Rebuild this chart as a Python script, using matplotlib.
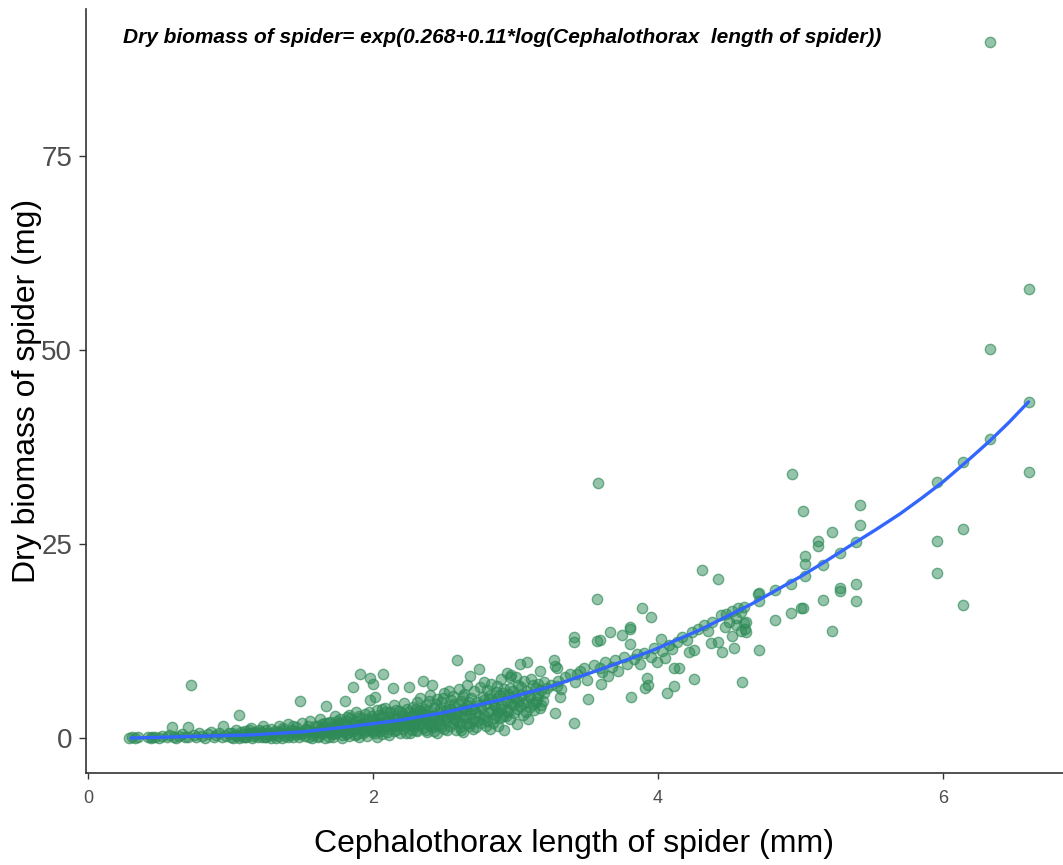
import matplotlib
matplotlib.use("Agg")
import matplotlib.pyplot as plt
import numpy as np

# ---- data ----
pts_a = [(0.29,0.0),(0.31,0.1),(0.33,0.0),(0.35,0.2),(0.42,0.1),(0.44,0.0),(0.45,0.2),(0.47,0.1),
         (0.50,0.0),(0.52,0.3),(0.55,0.1),(0.57,0.4),(0.59,1.4),(0.60,0.2),(0.62,0.0),(0.64,0.3),
         (0.66,0.5),(0.68,0.1),(0.70,1.4),(0.70,0.2),(0.72,6.8),(0.74,0.4),(0.76,0.1),(0.78,0.6),
         (0.80,0.3),(0.82,0.0),(0.84,0.5),(0.86,0.8),(0.88,0.2),(0.90,0.4),(0.92,0.7),(0.94,0.1),
         (0.95,1.6),(0.97,0.3),(0.99,0.6)]
pts_b = [(1.00,0.2),(1.01,0.7),(1.03,0.4),(1.04,1.1),(1.06,3.0),(1.06,0.0),(1.08,0.5),(1.10,0.9),
         (1.11,0.2),(1.13,0.6),(1.14,1.3),(1.16,0.3),(1.17,0.8),(1.19,0.1),(1.20,1.0),(1.22,0.5),
         (1.23,1.6),(1.25,0.2),(1.26,0.7),(1.28,1.2),(1.29,0.4),(1.31,0.9),(1.32,0.0),(1.34,1.5),
         (1.35,0.6),(1.37,1.0),(1.38,0.3),(1.40,1.8),(1.41,0.7),(1.43,1.1),(1.44,0.2),(1.46,1.4),
         (1.47,0.8),(1.49,4.8),(1.49,0.5),(1.50,1.9),(1.52,0.3),(1.53,1.2),(1.55,0.9),(1.56,2.2),
         (1.58,0.4),(1.59,1.6),
         (1.02,0.0),(1.05,0.3),(1.07,0.8),(1.09,0.1),(1.12,0.5),(1.15,0.0),(1.18,0.4),(1.21,0.8),
         (1.24,0.1),(1.27,0.4),(1.30,0.7),(1.33,0.3),(1.36,0.0),(1.39,0.6),(1.42,0.4),(1.45,0.9),
         (1.48,0.1),(1.51,0.6),(1.54,1.5),(1.57,0.0),(1.10,0.2),(1.16,0.6),(1.22,0.2),(1.28,0.0),
         (1.34,0.8),(1.40,0.2),(1.46,0.5),(1.52,1.0),(1.58,0.8),(1.13,1.0),(1.25,1.1),(1.37,1.3),
         (1.44,1.6),(1.55,0.2)]
pts_c = [(1.60,0.8),(1.61,1.5),(1.62,0.3),(1.63,2.4),(1.64,1.1),(1.65,0.6),(1.66,1.9),(1.67,4.1),
         (1.67,0.9),(1.68,1.3),(1.69,0.2),(1.70,2.1),(1.71,1.0),(1.72,0.5),(1.73,2.8),(1.74,1.6),
         (1.75,0.8),(1.76,1.2),(1.77,2.5),(1.78,0.4),(1.79,1.8),(1.80,4.8),(1.80,1.0),(1.81,2.2),
         (1.82,0.6),(1.83,3.0),(1.84,1.4),(1.85,0.9),(1.86,6.6),(1.86,2.0),(1.87,1.2),(1.88,3.4),
         (1.89,0.5),(1.90,1.7),(1.91,8.2),(1.91,2.6),(1.92,1.1),(1.93,0.7),(1.94,3.1),(1.95,1.9),
         (1.96,2.4),(1.97,1.0),(1.98,7.8),(1.98,4.9),(1.99,2.9),(2.00,7.0),(2.00,1.4),(2.01,5.3),
         (2.01,0.6),(2.02,2.2),(2.03,3.6),(2.04,1.6),(2.05,0.9),(2.06,2.8),(2.07,8.2),(2.07,1.3),
         (2.08,3.9),(2.09,2.1),(2.10,0.8),(2.11,2.6),(2.12,3.3),(2.13,1.5),(2.14,6.4),(2.14,2.0),
         (2.15,4.2),(2.16,1.1),(2.17,2.9),(2.18,3.5),(2.19,1.7),(2.20,2.4),
         (1.62,1.0),(1.70,0.7),(1.76,1.9),(1.84,2.6),(1.93,1.8),(2.03,2.5),(2.12,1.2),(2.18,2.0),
         (1.61,0.1),(1.63,0.7),(1.65,1.4),(1.66,0.0),(1.68,2.0),(1.69,0.9),(1.71,1.6),(1.72,0.2),
         (1.74,0.6),(1.75,2.2),(1.77,1.4),(1.78,0.0),(1.79,0.9),(1.81,1.5),(1.82,2.7),(1.83,0.3),
         (1.85,1.8),(1.87,0.4),(1.88,2.2),(1.89,1.3),(1.90,0.2),(1.92,2.0),(1.94,0.9),(1.95,1.4),
         (1.96,0.3),(1.97,3.3),(1.99,0.8),(2.00,2.5),(2.02,1.1),(2.03,0.2),(2.04,3.0),(2.05,1.9),
         (2.06,0.5),(2.08,1.5),(2.09,3.3),(2.10,2.2),(2.11,0.4),(2.13,2.8),(2.15,0.9),(2.16,3.6),
         (2.17,1.6),(2.19,0.6),(2.20,3.2),(1.64,1.8),(1.73,1.2),(1.81,0.5),(1.90,2.8),(1.99,1.8),
         (2.06,3.8),(2.15,2.4)]
pts_d = [(2.21,1.2),(2.21,3.0),(2.22,2.1),(2.22,4.5),(2.23,0.7),(2.24,2.6),(2.25,6.6),(2.25,1.8),
         (2.26,3.4),(2.27,1.0),(2.27,2.9),(2.28,4.0),(2.29,1.5),(2.30,2.3),(2.30,3.7),(2.31,0.9),
         (2.32,2.7),(2.33,5.2),(2.33,1.9),(2.34,3.1),(2.35,7.4),(2.35,1.3),(2.36,2.5),(2.37,4.3),
         (2.38,0.8),(2.38,3.5),(2.39,2.0),(2.40,5.6),(2.41,6.8),(2.41,2.9),(2.42,1.4),(2.43,3.9),
         (2.44,2.4),(2.45,5.0),(2.45,0.6),(2.46,3.2),(2.47,1.8),(2.48,4.6),(2.49,2.7),(2.50,5.8),
         (2.50,1.2),(2.51,3.6),(2.52,2.2),(2.53,6.1),(2.53,4.1),(2.54,1.6),(2.55,3.0),(2.56,5.4),
         (2.57,2.5),(2.57,4.4),(2.58,1.0),(2.59,10.1),(2.59,3.4),(2.60,6.3),(2.61,2.0),(2.62,4.8),
         (2.62,1.0),(2.63,0.8),(2.63,3.8),(2.64,5.7),(2.65,2.6),(2.66,6.8),(2.66,4.2),(2.67,1.6),
         (2.68,8.0),(2.68,3.2),(2.69,5.1),(2.70,2.3),
         (2.28,2.0),(2.36,3.8),(2.44,1.7),(2.52,3.3),(2.60,2.9),(2.66,2.0),
         (2.21,2.2),(2.23,1.6),(2.24,3.8),(2.26,0.6),(2.27,2.1),(2.29,3.2),(2.30,1.0),(2.31,4.6),
         (2.32,1.7),(2.34,2.3),(2.35,3.3),(2.37,1.1),(2.38,2.4),(2.39,4.8),(2.40,1.6),(2.42,3.0),
         (2.43,0.9),(2.44,4.4),(2.46,2.2),(2.47,3.7),(2.48,1.4),(2.49,5.2),(2.51,2.6),(2.52,1.0),
         (2.54,3.8),(2.55,4.9),(2.56,1.9),(2.58,3.0),(2.59,2.2),(2.60,4.4),(2.61,1.4),(2.63,5.4),
         (2.64,2.8),(2.65,3.6),(2.67,4.6),(2.68,2.0),(2.69,3.8),(2.70,1.2),(2.25,2.7),(2.33,3.6),
         (2.41,2.2),(2.50,3.0),(2.57,3.4),(2.64,3.9)]
pts_e = [(2.71,6.0),(2.71,3.7),(2.72,1.4),(2.73,4.6),(2.74,8.9),(2.74,2.8),(2.75,6.6),(2.76,3.9),
         (2.76,1.9),(2.77,5.3),(2.78,7.2),(2.78,3.0),(2.79,4.4),(2.80,2.2),(2.80,6.2),(2.81,5.0),
         (2.82,1.2),(2.83,3.5),(2.83,7.0),(2.84,4.8),(2.85,2.6),(2.86,5.9),(2.86,4.0),(2.87,6.7),
         (2.88,1.6),(2.88,3.3),(2.89,5.5),(2.90,7.6),(2.90,4.3),(2.91,2.9),(2.92,6.3),(2.92,1.0),
         (2.93,4.9),(2.94,8.4),(2.94,3.6),(2.95,5.7),(2.96,7.9),(2.96,2.4),(2.97,8.1),(2.97,4.5),
         (2.98,6.1),(2.99,3.2),(3.00,7.9),(3.00,5.2),(3.01,1.8),(3.02,6.8),(3.03,9.6),(3.03,4.1),
         (3.04,5.6),(3.05,3.0),(3.06,7.3),(3.07,4.7),(3.08,9.8),(3.08,6.0),(3.09,2.5),(3.10,5.3),
         (3.11,7.6),(3.12,4.4),(3.13,3.6),(3.14,6.4),(3.15,5.0),(3.16,7.0),(3.17,8.7),(3.17,3.9),
         (3.18,6.2),(3.19,4.8),(3.20,5.8),
         (2.72,3.2),(2.73,2.2),(2.75,4.2),(2.77,2.4),(2.78,4.9),(2.79,1.6),(2.81,3.4),(2.82,5.6),
         (2.84,2.0),(2.85,4.2),(2.86,3.0),(2.87,5.1),(2.89,2.6),(2.90,3.8),(2.91,5.8),(2.93,2.8),
         (2.94,4.6),(2.95,3.4),(2.96,6.4),(2.98,4.2),(2.99,5.4),(3.01,3.8),(3.02,4.8),(3.04,6.6),
         (3.05,4.4),(3.07,3.4),(3.09,5.6),(3.10,4.0),(3.12,6.8),(3.14,4.6),(3.16,5.6),(3.18,4.2),
         (3.20,7.2)]
pts_f = [(3.22,6.5),(3.25,6.8),(3.27,10.1),(3.28,9.3),(3.28,3.2),(3.29,9.0),(3.29,6.7),(3.30,7.4),
         (3.31,5.3),(3.32,6.3),(3.35,7.9),(3.38,8.3),(3.41,13.0),(3.41,12.4),(3.41,2.0),(3.42,7.2),
         (3.43,8.2),(3.45,8.6),(3.48,9.0),(3.50,7.5),(3.51,5.0),(3.55,9.4),(3.57,17.9),(3.57,12.5),
         (3.58,32.9),(3.59,12.6),(3.59,9.0),(3.60,7.0),(3.61,8.5),(3.63,9.8),(3.65,8.0),(3.66,13.6),
         (3.68,9.2),(3.70,10.0),(3.72,8.6),(3.75,13.3),(3.76,10.4),(3.78,9.5),(3.80,14.3),(3.80,14.0),
         (3.80,12.1),(3.81,5.3),(3.83,10.2),(3.85,10.8),(3.87,9.6),(3.89,16.8),(3.90,11.0),(3.91,6.5),
         (3.92,7.7),(3.93,6.8),(3.95,15.6),(3.95,10.5),(3.97,11.6),(3.99,9.8)]
pts_g = [(4.02,12.8),(4.03,11.2),(4.05,10.3),(4.06,5.8),(4.08,12.0),(4.10,11.5),(4.11,9.0),(4.11,6.7),
         (4.13,12.4),(4.15,9.0),(4.17,13.0),(4.20,12.6),(4.22,11.1),(4.24,13.6),(4.25,11.4),(4.25,7.6),
         (4.28,14.0),(4.31,21.6),(4.32,14.6),(4.35,13.8),(4.37,12.2),(4.38,15.0),(4.42,12.4),(4.42,20.5),
         (4.44,15.8),(4.45,11.1),(4.47,14.3),(4.48,16.0),(4.50,15.0),(4.52,13.1),(4.52,16.4),(4.53,11.6),
         (4.55,15.5),(4.55,14.6),(4.56,16.8),(4.58,16.2),(4.58,13.8),(4.59,7.2),(4.60,14.8),(4.60,16.9),
         (4.61,14.0),(4.62,13.7),(4.62,15.0),(4.70,18.6),(4.71,18.7),(4.71,17.7),(4.71,11.3)]
pts_h = [(4.82,19.1),(4.82,15.2),(4.93,19.8),(4.93,16.1),(4.94,34.0),(5.00,16.7),(5.02,29.3),(5.02,16.8),
         (5.03,23.5),(5.03,22.4),(5.03,20.9),(5.12,25.4),(5.12,24.7),(5.16,22.3),(5.16,17.8),(5.22,26.5),
         (5.22,13.8),(5.28,23.8),(5.28,19.3),(5.28,18.9),(5.39,25.2),(5.39,19.9),(5.39,17.6),(5.42,30.0),
         (5.42,27.4),(5.96,33.0),(5.96,25.4),(5.96,21.3),(6.14,35.6),(6.14,26.9),(6.14,17.1),(6.33,89.6),
         (6.33,50.1),(6.33,38.5),(6.60,57.9),(6.60,43.3),(6.60,34.3)]

# fitted curve
fit_x = [0.30, 0.70, 1.14, 1.50, 1.80, 2.19, 2.50, 2.89, 3.24, 3.59, 3.95, 4.29, 4.65, 5.00,
         5.175, 5.35, 5.525, 5.70, 5.85, 6.00, 6.165, 6.33, 6.465, 6.60]
fit_y = [0.0, 0.2, 0.4, 0.8, 1.4, 2.3, 3.3, 4.9, 6.6, 8.8, 11.2, 13.9, 17.2, 20.8,
         22.75, 24.8, 26.8, 28.9, 30.9, 33.0, 35.6, 38.3, 40.7, 43.3]

x_ticks = [0, 2, 4, 6]
y_ticks = [0, 25, 50, 75]

all_pts = pts_a + pts_b + pts_c + pts_d + pts_e + pts_f + pts_g + pts_h
px = np.array([p[0] for p in all_pts])
py = np.array([p[1] for p in all_pts])

W, H = 1063, 865
fig = plt.figure(figsize=(W/100, H/100), dpi=100)
ax = fig.add_axes([86/W, 1 - 773/H, (W - 86)/W, (773 - 9)/H])

ax.scatter(px, py, s=55, facecolor=(0.18, 0.545, 0.34, 0.5),
           edgecolor=(0.18, 0.545, 0.34, 0.65), linewidths=1.0, zorder=2)
ax.plot(fit_x, fit_y, color="#3366FF", lw=2.4, zorder=3, solid_capstyle="round",
        solid_joinstyle="round")

ax.set_xlim(-0.015, 6.842)
ax.set_ylim(-4.5, 93.9)
ax.set_xticks(x_ticks)
ax.set_yticks(y_ticks)
ax.set_xticklabels([str(v) for v in x_ticks])
ax.set_yticklabels([str(v) for v in y_ticks])

for s in ["top", "right"]:
    ax.spines[s].set_visible(False)
for s in ["left", "bottom"]:
    ax.spines[s].set_color("#333333")
    ax.spines[s].set_linewidth(1.2)

ax.tick_params(axis="y", length=5, width=1, color="#333333", labelcolor="#4D4D4D",
               labelsize=20, pad=5)
ax.tick_params(axis="x", length=4, width=1, color="#333333", labelcolor="#4D4D4D",
               labelsize=13, pad=8)
for lab in ax.get_yticklabels() + ax.get_xticklabels():
    lab.set_family(["Liberation Sans", "DejaVu Sans"])

ax.set_xlabel("Cephalothorax length of spider (mm)", fontsize=23, labelpad=16,
              family=["Liberation Sans", "DejaVu Sans"], color="black")
ax.set_ylabel("Dry biomass of spider (mg)", fontsize=23, labelpad=-1,
              family=["Liberation Sans", "DejaVu Sans"], color="black")

ax.text(0.426, 0.963, "Dry biomass of spider= exp(0.268+0.11*log(Cephalothorax  length of spider))",
        transform=ax.transAxes, ha="center", va="center", fontsize=15,
        fontweight="bold", fontstyle="italic",
        family=["Liberation Sans", "DejaVu Sans"])

fig.savefig("out.png", dpi=100, facecolor="white")
